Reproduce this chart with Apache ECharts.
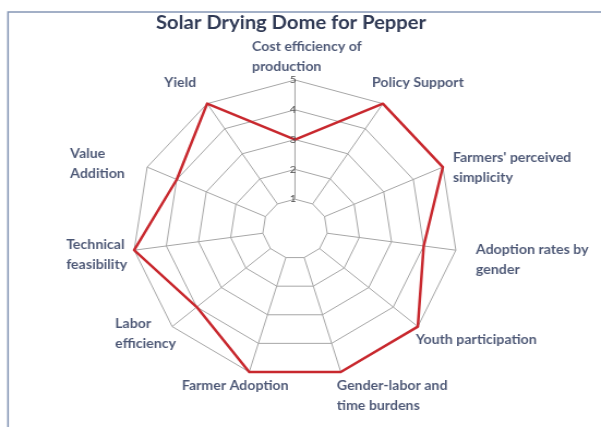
<!DOCTYPE html>
<html>
<head>
<meta charset="utf-8">
<script src="https://cdn.jsdelivr.net/npm/echarts@6/dist/echarts.min.js"></script>
<style>
  html, body { margin: 0; padding: 0; background: #fff; overflow: hidden; }
  /* the original picture is a little wider than it is tall, stretch it the same way */
  #main { width: 551px; height: 427px; transform: scaleX(1.0907); transform-origin: 0 0; }
</style>
</head>
<body>
<div id="main"></div>
<script>
// axes in clockwise order, starting at the top
var indicatorNames = [
    'Cost efficiency of\nproduction',
    'Policy Support',
    "Farmers' perceived\nsimplicity",
    'Adoption rates by\ngender',
    'Youth participation',
    'Gender-labor and\ntime burdens',
    'Farmer Adoption',
    'Labor\nefficiency',
    'Technical\nfeasibility',
    'Value\nAddition',
    'Yield'
];
var scores = [3, 5, 5, 4, 5, 5, 5, 4, 5, 4, 5];
var tickLabels = ['1', '2', '3', '4', '5'];
var maxScore = 5;

var stretch = 1.0907;
var cx = 295 / stretch, cy = 229, R = 149;

// where each axis name sits next to the end of its axis (screen px)
var nameLayout = [
    { align: 'left', dx: -43, dy: -23 },
    { align: 'left', dx: -11, dy: -21 },
    { align: 'left', dx: 10, dy: 1 },
    { align: 'left', dx: 20, dy: 10 },
    { align: 'left', dx: -2, dy: 13 },
    { align: 'left', dx: -4, dy: 24 },
    { align: 'center', dx: -14, dy: 14 },
    { align: 'left', dx: -57, dy: 7 },
    { align: 'left', dx: -68, dy: 5 },
    { align: 'left', dx: -77, dy: -3 },
    { align: 'center', dx: -27, dy: -21 }
];

// echarts radar runs counter-clockwise, so flip everything after the first axis
function clockwise(arr) {
    return [arr[0]].concat(arr.slice(1).reverse());
}

var gridColor = '#a6a6a6';

var chartDom = echarts.init(document.getElementById('main'));
chartDom.setOption({
    animation: false,
    title: {
        text: 'Solar Drying Dome for Pepper',
        left: 138,
        top: 9,
        textStyle: {
            fontFamily: 'Lato',
            fontSize: 18.5,
            fontWeight: 'bold',
            color: '#303a55'
        }
    },
    graphic: [{
        type: 'rect',
        shape: { x: 8 / stretch, y: 12, width: 600, height: 460 },
        style: { fill: 'none', stroke: '#8596b5', lineWidth: 1.5 },
        silent: true
    }],
    radar: {
        center: [cx, cy],
        radius: R,
        startAngle: 90,
        splitNumber: 5,
        shape: 'polygon',
        indicator: clockwise(indicatorNames).map(function (n) {
            return { name: n, min: 0, max: maxScore };
        }),
        axisName: { show: false },
        axisLine: { show: false },
        splitLine: { lineStyle: { color: gridColor, width: 1 } },
        splitArea: { show: false }
    },
    polar: {
        center: [cx, cy],
        radius: [R / maxScore, R]
    },
    angleAxis: {
        type: 'value',
        min: 0,
        max: indicatorNames.length,
        interval: 1,
        startAngle: 90,
        clockwise: true,
        axisLine: { show: false },
        axisTick: { show: false },
        axisLabel: { show: false },
        splitLine: { show: true, lineStyle: { color: gridColor, width: 1 } }
    },
    radiusAxis: {
        type: 'value',
        min: 1,
        max: maxScore,
        interval: 1,
        axisLine: { show: false },
        axisTick: { show: false },
        splitLine: { show: false },
        axisLabel: {
            margin: -1,
            color: '#4a4a4a',
            fontSize: 10,
            fontFamily: 'Lato',
            padding: [4, 0, 0, 0],
            formatter: function (v) { return tickLabels[v - 1]; }
        },
        z: 10
    },
    series: [{
        type: 'radar',
        symbol: 'none',
        lineStyle: { color: '#c8282e', width: 2.5 },
        data: [{ value: clockwise(scores), name: 'Solar Drying Dome for Pepper' }]
    }, {
        // axis names, hung on the outer end of each spoke
        type: 'scatter',
        coordinateSystem: 'polar',
        symbolSize: 0,
        silent: true,
        data: indicatorNames.map(function (n, k) {
            var l = nameLayout[k];
            return {
                value: [maxScore, k],
                name: n,
                label: {
                    align: l.align,
                    offset: [l.dx / stretch, l.dy]
                }
            };
        }),
        label: {
            show: true,
            position: 'inside',
            verticalAlign: 'middle',
            formatter: function (p) { return p.name; },
            color: '#1f2d52',
            fontFamily: 'Lato',
            fontWeight: 'bold',
            fontSize: 13,
            lineHeight: 20
        }
    }]
});
</script>
</body>
</html>
